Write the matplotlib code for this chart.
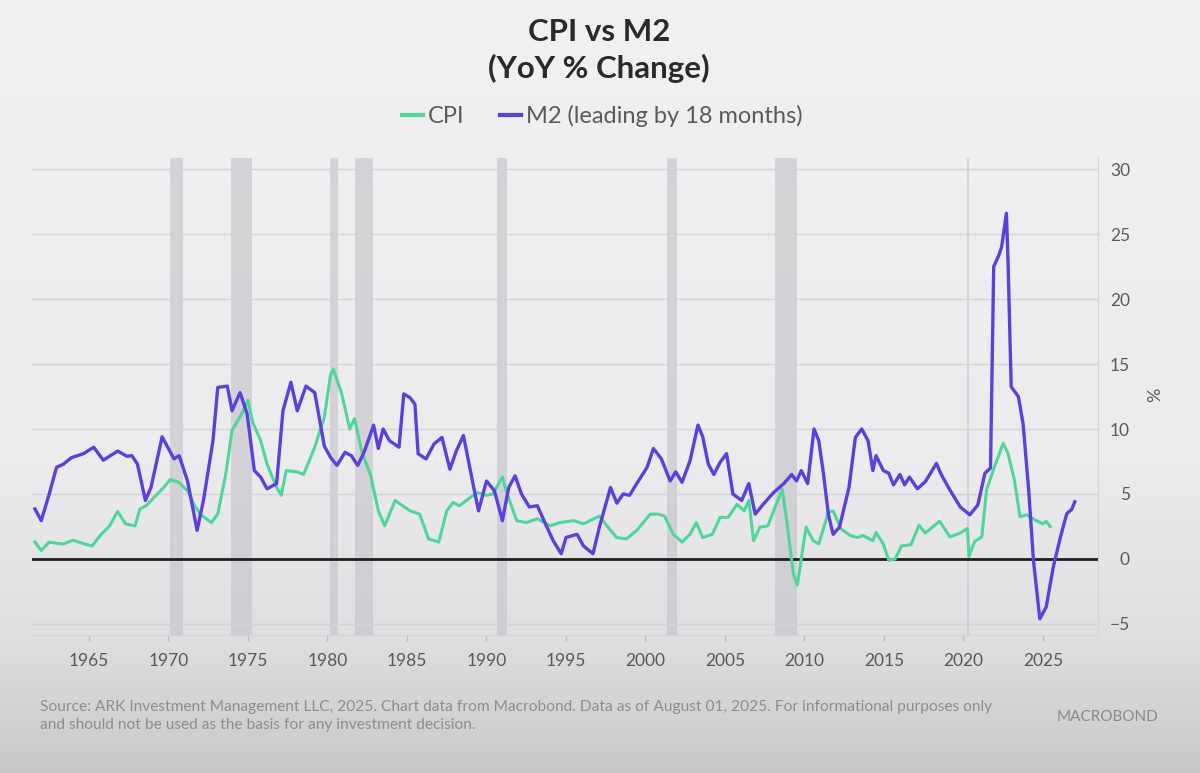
import numpy as np
import matplotlib.pyplot as plt
from matplotlib.colors import LinearSegmentedColormap
from matplotlib.lines import Line2D

plt.rcParams['font.family'] = ['Lato', 'DejaVu Sans']

# CPI, YoY %
cpi_year = [1961.6, 1962.0, 1962.5, 1963.0, 1963.4, 1964.0, 1964.6, 1965.2, 1965.7, 1966.3,
            1966.8, 1967.3, 1967.9, 1968.2, 1968.6, 1969.1, 1969.7, 1970.1, 1970.65, 1971.2,
            1971.6, 1972.0, 1972.7, 1973.1, 1973.6, 1974.0, 1974.6, 1975.0, 1975.3, 1975.8,
            1976.2, 1976.8, 1977.1, 1977.4, 1978.1, 1978.5, 1979.2, 1979.8, 1980.2, 1980.37,
            1980.9, 1981.4, 1981.7, 1982.15, 1982.7, 1983.2, 1983.6, 1984.25, 1985.2, 1985.8,
            1986.35, 1987.0, 1987.5, 1987.9, 1988.3, 1989.0, 1989.4, 1990.0, 1990.4, 1991.0,
            1991.3, 1991.9, 1992.5, 1993.2, 1994.0, 1994.6, 1995.5, 1996.1, 1997.1, 1997.8,
            1998.2, 1998.8, 1999.45, 2000.3, 2000.8, 2001.2, 2001.75, 2002.3, 2002.8, 2003.2,
            2003.6, 2004.2, 2004.7, 2005.2, 2005.75, 2006.2, 2006.5, 2006.8, 2007.2, 2007.7,
            2008.15, 2008.6, 2008.9, 2009.3, 2009.55, 2010.1, 2010.55, 2010.9, 2011.5, 2011.8,
            2012.3, 2012.9, 2013.3, 2013.7, 2014.3, 2014.5, 2014.96, 2015.3, 2015.7, 2016.1,
            2016.7, 2017.2, 2017.6, 2018.5, 2019.15, 2019.8, 2020.25, 2020.35, 2020.7, 2021.15,
            2021.45, 2021.95, 2022.5, 2022.8, 2023.2, 2023.55, 2023.97, 2024.5, 2025.0, 2025.2,
            2025.45]
cpi_value = [1.3, 0.65, 1.3, 1.2, 1.15, 1.45, 1.2, 1.0, 1.8, 2.55,
             3.65, 2.7, 2.55, 3.85, 4.1, 4.75, 5.5, 6.1, 5.9, 5.25,
             4.2, 3.45, 2.8, 3.45, 6.5, 9.9, 11.15, 12.2, 10.5, 9.1,
             7.3, 5.5, 4.9, 6.8, 6.7, 6.5, 8.6, 10.9, 14.2, 14.6,
             12.7, 10.0, 10.8, 8.3, 6.5, 3.7, 2.55, 4.5, 3.7, 3.45,
             1.55, 1.3, 3.7, 4.35, 4.1, 4.75, 5.1, 4.9, 5.0, 6.3,
             5.0, 2.95, 2.8, 3.1, 2.55, 2.8, 2.95, 2.7, 3.3, 2.2,
             1.65, 1.55, 2.2, 3.45, 3.45, 3.3, 1.9, 1.3, 1.9, 2.8,
             1.65, 1.9, 3.2, 3.2, 4.2, 3.7, 4.5, 1.4, 2.45, 2.55,
             4.0, 5.35, 2.8, -1.15, -2.0, 2.45, 1.4, 1.15, 3.6, 3.7,
             2.3, 1.8, 1.65, 1.8, 1.4, 2.05, 1.15, -0.1, 0.0, 1.0,
             1.1, 2.6, 2.0, 2.9, 1.7, 2.0, 2.35, 0.2, 1.35, 1.7,
             5.3, 7.1, 8.9, 8.1, 6.1, 3.25, 3.4, 3.0, 2.7, 2.9,
             2.5]

# M2, YoY %, shifted forward 18 months
m2_year = [1961.6, 1962.0, 1962.5, 1962.96, 1963.4, 1963.9, 1964.65, 1965.3, 1965.9, 1966.8,
           1967.4, 1967.7, 1968.05, 1968.55, 1968.9, 1969.6, 1970.35, 1970.67, 1971.2, 1971.8,
           1972.2, 1972.8, 1973.1, 1973.7, 1974.0, 1974.5, 1974.95, 1975.4, 1975.8, 1976.2,
           1976.8, 1977.2, 1977.7, 1978.1, 1978.65, 1979.2, 1979.8, 1980.2, 1980.6, 1981.1,
           1981.5, 1981.9, 1982.3, 1982.9, 1983.2, 1983.5, 1983.9, 1984.5, 1984.8, 1985.2,
           1985.5, 1985.7, 1986.2, 1986.7, 1987.2, 1987.7, 1988.1, 1988.55, 1989.2, 1989.5,
           1990.0, 1990.5, 1991.0, 1991.4, 1991.8, 1992.2, 1992.7, 1993.2, 1993.8, 1994.2,
           1994.7, 1995.0, 1995.7, 1996.1, 1996.7, 1997.1, 1997.8, 1998.2, 1998.6, 1999.0,
           1999.45, 2000.1, 2000.5, 2001.0, 2001.55, 2001.9, 2002.3, 2002.8, 2003.3, 2003.6,
           2003.95, 2004.3, 2004.7, 2005.1, 2005.5, 2006.05, 2006.5, 2006.9, 2007.4, 2008.05,
           2008.7, 2009.2, 2009.5, 2009.8, 2010.2, 2010.6, 2010.9, 2011.2, 2011.5, 2011.8,
           2012.2, 2012.8, 2013.2, 2013.6, 2014.0, 2014.3, 2014.5, 2014.96, 2015.3, 2015.6,
           2016.0, 2016.3, 2016.6, 2017.1, 2017.6, 2018.3, 2018.6, 2019.15, 2019.8, 2020.4,
           2020.9, 2021.35, 2021.7, 2021.9, 2022.2, 2022.4, 2022.7, 2022.8, 2023.0, 2023.45,
           2023.75, 2024.1, 2024.4, 2024.8, 2025.2, 2025.65, 2026.1, 2026.5, 2026.8, 2027.0]
m2_value = [3.85, 2.95, 5.0, 7.05, 7.3, 7.8, 8.1, 8.6, 7.6, 8.3,
            7.9, 7.95, 7.3, 4.5, 5.5, 9.4, 7.7, 7.95, 6.0, 2.2,
            4.5, 9.1, 13.2, 13.3, 11.4, 12.8, 11.15, 6.8, 6.3, 5.4,
            5.8, 11.4, 13.6, 11.4, 13.3, 12.8, 8.7, 7.8, 7.2, 8.2,
            7.95, 7.2, 8.2, 10.3, 8.5, 10.0, 9.1, 8.6, 12.7, 12.4,
            11.9, 8.1, 7.7, 8.85, 9.35, 6.9, 8.3, 9.5, 5.5, 3.7,
            6.0, 5.25, 2.95, 5.5, 6.4, 5.0, 4.0, 4.1, 2.45, 1.4,
            0.4, 1.65, 1.9, 1.0, 0.4, 2.45, 5.5, 4.3, 5.0, 4.9,
            5.8, 7.05, 8.5, 7.7, 6.0, 6.7, 5.9, 7.55, 10.3, 9.4,
            7.3, 6.5, 7.45, 8.1, 5.0, 4.5, 5.8, 3.45, 4.2, 5.1,
            5.8, 6.5, 6.0, 6.8, 5.8, 10.0, 9.1, 6.5, 3.45, 1.9,
            2.45, 5.5, 9.35, 10.0, 9.1, 6.8, 7.95, 6.8, 6.6, 5.7,
            6.5, 5.7, 6.3, 5.4, 5.95, 7.35, 6.5, 5.3, 4.0, 3.4,
            4.15, 6.6, 7.0, 22.5, 23.3, 24.0, 26.6, 23.0, 13.25, 12.5,
            10.4, 5.3, -0.1, -4.6, -3.7, -0.6, 1.7, 3.5, 3.8, 4.4]

# shaded recessions
recession_start = [1970.1, 1973.95, 1980.16, 1981.73, 1990.66, 2001.35, 2008.14, 2020.2]
recession_end = [1970.9, 1975.25, 1980.66, 1982.86, 1991.29, 2001.98, 2009.53, 2020.35]

year_ticks = list(range(1965, 2030, 5))
value_ticks = [-5, 0, 5, 10, 15, 20, 25, 30]

cpi_col = '#4fd79b'
m2_col = '#5b40de'
txt_col = '#5a5a5c'

fig = plt.figure(figsize=(12, 7.73), dpi=100)

# background gradient
bg = fig.add_axes([0, 0, 1, 1], zorder=-10)
grad = np.linspace(0, 1, 256).reshape(-1, 1)
cmap = LinearSegmentedColormap.from_list(
    'bg', [(0, '#f1f1f3'), (0.6, '#ececee'), (0.82, '#e0e0e2'), (1, '#c9c9cb')])
bg.imshow(grad, aspect='auto', cmap=cmap, extent=[0, 1, 0, 1])
bg.axis('off')

ax = fig.add_axes([0.0267, 0.1785, 0.8883, 0.6171])
ax.patch.set_alpha(0)

for s, e in zip(recession_start, recession_end):
    ax.axvspan(s, e, color='#c6c6cb', alpha=0.65, lw=0, zorder=0.3)

ax.set_axisbelow(True)
ax.grid(axis='y', color='#d4d4d6', lw=1)
ax.axhline(0, color='#1e1e1e', lw=2, zorder=2)

ax.plot(cpi_year, cpi_value, color=cpi_col, lw=2.2, zorder=3)
ax.plot(m2_year, m2_value, color=m2_col, lw=2.4, zorder=4)

ax.set_xlim(1961.42, 2028.46)
ax.set_ylim(-5.85, 30.85)

ax.set_xticks(year_ticks)
ax.set_yticks(value_ticks)
ax.yaxis.tick_right()
ax.tick_params(axis='x', length=4, width=1, color='#bdbdbf', labelsize=12.5,
               labelcolor=txt_col, pad=9)
ax.tick_params(axis='y', length=0, labelsize=12.5, labelcolor=txt_col, pad=23)
for lbl in ax.get_yticklabels():
    lbl.set_horizontalalignment('right')

for side in ['top', 'left']:
    ax.spines[side].set_visible(False)
ax.spines['right'].set_color('#d4d4d6')
ax.spines['bottom'].set_color('#d4d4d6')

fig.text(1155 / 1200, 1 - 395 / 773, '%', rotation=90, ha='center', va='center',
         fontsize=13, color=txt_col)

fig.text(0.499, 1 - 32 / 773, 'CPI vs M2', ha='center', va='center',
         fontsize=22.5, fontweight='bold', color='#2a2a2a')
fig.text(0.499, 1 - 68 / 773, '(YoY % Change)', ha='center', va='center',
         fontsize=22.5, fontweight='bold', color='#2a2a2a')

handles = [Line2D([], [], color=cpi_col, lw=3),
           Line2D([], [], color=m2_col, lw=3)]
fig.legend(handles, ['CPI', 'M2 (leading by 18 months)'], loc='center',
           bbox_to_anchor=(602 / 1200, 1 - 116 / 773), ncol=2, frameon=False,
           fontsize=17, handlelength=0.9, handletextpad=0.2, columnspacing=1.5,
           labelcolor=txt_col)

fig.text(40 / 1200, 1 - 716 / 773,
         'Source: ARK Investment Management LLC, 2025. Chart data from Macrobond. '
         'Data as of August 01, 2025. For informational purposes only\n'
         'and should not be used as the basis for any investment decision.',
         ha='left', va='center', fontsize=11.2, color='#8e8e90', linespacing=1.3)
fig.text(1108 / 1200, 1 - 717 / 773, 'MACROBOND', ha='center', va='center',
         fontsize=11, color='#8a8a8c')

fig.savefig('out.png', dpi=100)
